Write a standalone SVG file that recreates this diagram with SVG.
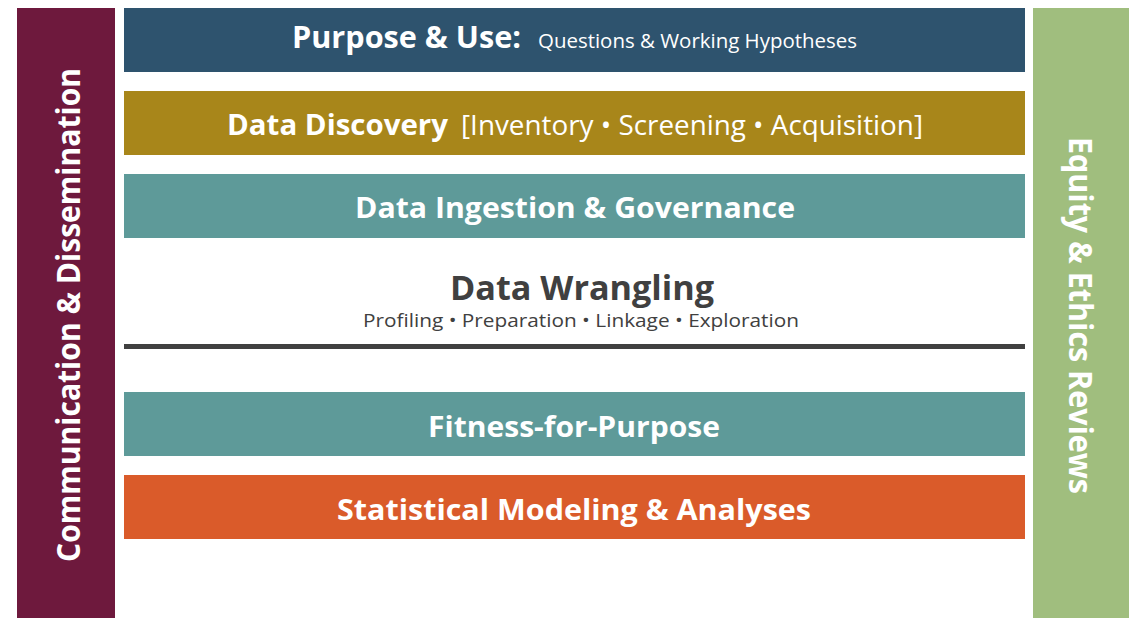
<svg xmlns="http://www.w3.org/2000/svg" width="1134" height="618" viewBox="0 0 1134 618">
<style>
text{font-family:"Open Sans","Noto Sans","Liberation Sans",sans-serif;fill:#ffffff}
.b{font-weight:700}
.r{font-weight:400}
.dark{fill:#404040}
</style>
<rect x="0" y="0" width="1134" height="618" fill="#ffffff"/>
<g id="communication">
<rect x="17" y="8" width="98" height="612" fill="#6E193D"/>
<text class="b" font-size="33" transform="translate(80,562) rotate(-90)" x="0" y="0" textLength="494" lengthAdjust="spacingAndGlyphs">Communication &amp; Dissemination</text>
</g>
<g id="equity">
<rect x="1033" y="8" width="96" height="612" fill="#A0BE7E"/>
<text class="b" font-size="33" transform="translate(1069,137) rotate(90)" x="0" y="0" textLength="357" lengthAdjust="spacingAndGlyphs">Equity &amp; Ethics Reviews</text>
</g>
<g id="purpose">
<rect x="124" y="8" width="901" height="64" fill="#2E536E"/>
<text class="b" font-size="31" x="292" y="48" textLength="229" lengthAdjust="spacingAndGlyphs">Purpose &amp; Use:</text>
<text class="r" font-size="20" x="538" y="48" textLength="319" lengthAdjust="spacingAndGlyphs">Questions &amp; Working Hypotheses</text>
</g>
<g id="discovery">
<rect x="124" y="91" width="901" height="64" fill="#A8861A"/>
<text class="b" font-size="29" x="227" y="135" textLength="221" lengthAdjust="spacingAndGlyphs">Data Discovery</text>
<text class="r" font-size="27" x="461" y="135" textLength="462" lengthAdjust="spacingAndGlyphs">[Inventory • Screening • Acquisition]</text>
</g>
<g id="ingestion">
<rect x="124" y="174" width="901" height="64" fill="#5E9A99"/>
<text class="b" font-size="29" x="355" y="218" textLength="440" lengthAdjust="spacingAndGlyphs">Data Ingestion &amp; Governance</text>
</g>
<g id="wrangling">
<text class="b dark" font-size="34" x="450" y="300" textLength="264" lengthAdjust="spacingAndGlyphs">Data Wrangling</text>
<text class="r dark" font-size="19" x="363" y="327" textLength="436" lengthAdjust="spacingAndGlyphs">Profiling • Preparation • Linkage • Exploration</text>
<rect x="124" y="344" width="901" height="5" fill="#404040"/>
</g>
<g id="fitness">
<rect x="124" y="392" width="901" height="64" fill="#5E9A99"/>
<text class="b" font-size="29" x="428" y="437" textLength="292" lengthAdjust="spacingAndGlyphs">Fitness-for-Purpose</text>
</g>
<g id="statistical">
<rect x="124" y="475" width="901" height="64" fill="#DA5B2A"/>
<text class="b" font-size="29" x="337" y="520" textLength="474" lengthAdjust="spacingAndGlyphs">Statistical Modeling &amp; Analyses</text>
</g>
<g id="connectors"></g>
</svg>
